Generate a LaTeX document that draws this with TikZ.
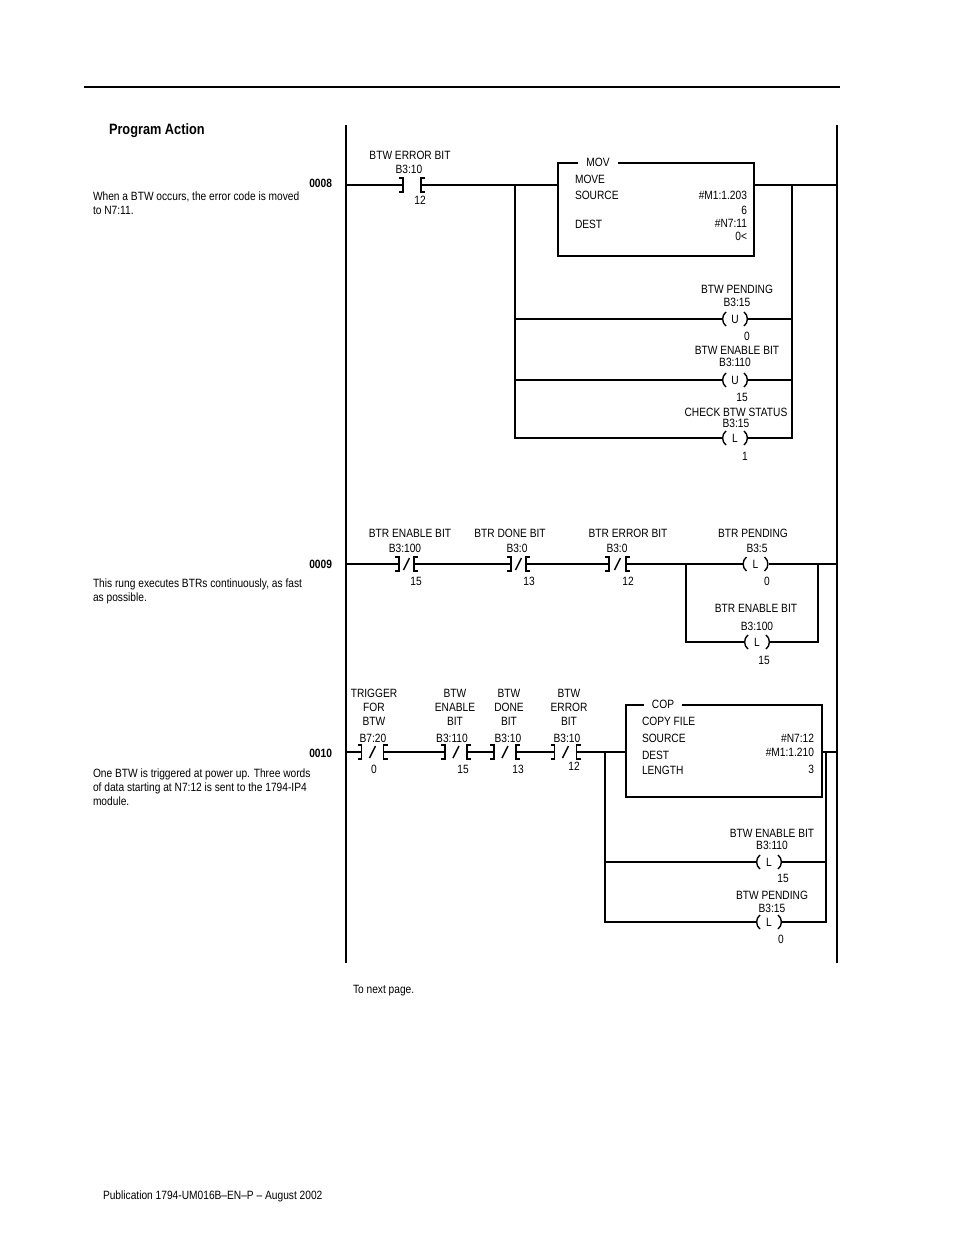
\documentclass[tikz,border=0pt]{standalone}
\usepackage{fontspec}
\setmainfont{Liberation Sans}[FakeStretch=0.85]
\usetikzlibrary{positioning}
\tikzset{x=1pt, y=-1pt,
every node/.style={ % Sets the properties for each node
inner sep=0pt, outer sep=0pt,
font=\fontsize{12}{14}\selectfont},
wire/.style={line width=1.4pt},
rail/.style={line width=2.2pt},
lbl/.style={anchor=mid, yshift=-1pt},
stack/.style={anchor=center, align=center},
desc/.style={anchor=north west, align=left},
rungno/.style={anchor=mid east, yshift=-1pt, font=\bfseries\fontsize{12}{14}\selectfont},
fieldtext/.style={anchor=mid west, yshift=-1pt},
valtext/.style={anchor=mid east, yshift=-1pt},
block/.style={draw, line width=1.8pt},
boxtitle/.style={fill=white, inner xsep=8pt, anchor=mid, yshift=-1pt},
contact/.style={ % Brackets of a contact
minimum width=#1, minimum height=14,
append after command={\pgfextra{
\draw[wire] ([xshift=-4pt]\tikzlastnode.north west) -- (\tikzlastnode.north west) -- (\tikzlastnode.south west) -- ([xshift=-4pt]\tikzlastnode.south west);
\draw[wire] ([xshift=4pt]\tikzlastnode.north east) -- (\tikzlastnode.north east) -- (\tikzlastnode.south east) -- ([xshift=4pt]\tikzlastnode.south east);}}},
ncontact/.style={ % Normally closed contact
contact=#1,
append after command={\pgfextra{
\draw[wire] ([xshift=-3pt,yshift=1pt]\tikzlastnode.south) -- ([xshift=3pt,yshift=-1pt]\tikzlastnode.north);}}},
coil/.style={ % Parentheses of an output coil
minimum width=26, minimum height=14,
append after command={\pgfextra{
\draw[wire] ([xshift=4pt]\tikzlastnode.north west) to[bend right=55] ([xshift=4pt]\tikzlastnode.south west);
\draw[wire] ([xshift=-4pt]\tikzlastnode.north east) to[bend left=55] ([xshift=-4pt]\tikzlastnode.south east);}}}}
\begin{document}
\begin{tikzpicture}
	\useasboundingbox (0,0) rectangle (954,1235);
	\draw[line width=2pt] (84,87) -- (840,87);
	\node[anchor=mid west, font=\bfseries\fontsize{15}{18}\selectfont] (head) at (109,132) {Program Action};
	\coordinate (Ltop) at (346,125);
	\coordinate (Lbot) at (346,963);
	\coordinate (Rtop) at (837,125);
	\coordinate (Rbot) at (837,963);
	\draw[rail] (Ltop) -- (Lbot);
	\draw[wire] (Rtop) -- (Rbot);

	% rung 0008
	\coordinate (L8) at (346,185);
	\coordinate (R8) at (837,185);
	\coordinate (b8l) at (515,185);
	\coordinate (b8r) at (792,185);
	\node[rungno] (n8) at (332,184) {0008};
	\node[desc] (d8) at (93,191.5) {When a BTW occurs, the error code is moved\\to N7:11.};
	\node[contact=18] (c8) at (412,185) {};
	\node[lbl] (c8a) at (410,156) {BTW ERROR BIT};
	\node[lbl] (c8b) at (409,170) {B3:10};
	\node[lbl] (c8c) at (420,201) {12};
	\node[block, minimum width=196, minimum height=93] (mov) at (656,209.5) {};
	\node[boxtitle] (movt) at (598,163) {MOV};
	\node[fieldtext] (movf1) at (575,180) {MOVE};
	\node[fieldtext] (movf2) at (575,196) {SOURCE};
	\node[fieldtext] (movf3) at (575,225) {DEST};
	\node[valtext] (movv1) at (747,196) {\#M1:1.203};
	\node[valtext] (movv2) at (747,211) {6};
	\node[valtext] (movv3) at (747,224) {\#N7:11};
	\node[valtext] (movv4) at (747,237) {0<};
	\node[coil] (k81) at (735,319) {U};
	\node[lbl] (k81a) at (737,290) {BTW PENDING};
	\node[lbl] (k81b) at (737,303) {B3:15};
	\node[lbl] (k81c) at (747,337) {0};
	\node[coil] (k82) at (735,380) {U};
	\node[lbl] (k82a) at (737,351) {BTW ENABLE BIT};
	\node[lbl] (k82b) at (735,363) {B3:110};
	\node[lbl] (k82c) at (742,398) {15};
	\node[coil] (k83) at (735,438) {L};
	\node[lbl] (k83a) at (736,413) {CHECK BTW STATUS};
	\node[lbl] (k83b) at (736,424) {B3:15};
	\node[lbl] (k83c) at (745,457) {1};
	\draw[wire] (L8) -- (c8.west) (c8.east) -- (c8.east -| mov.west) (mov.east |- R8) -- (R8);
	\draw[wire] (b8l) |- (k81.west) (b8l) |- (k82.west) (b8l) |- (k83.west);
	\draw[wire] (k81.east) -| (b8r) (k82.east) -| (b8r) (k83.east) -| (b8r);

	% rung 0009
	\coordinate (L9) at (346,564);
	\coordinate (R9) at (837,564);
	\coordinate (b9l) at (686,564);
	\coordinate (b9r) at (818,564);
	\node[rungno] (n9) at (332,565) {0009};
	\node[desc] (d9) at (93,578.5) {This rung executes BTRs continuously, as fast\\as possible.};
	\node[ncontact=15] (c91) at (406.5,564) {};
	\node[lbl] (c91a) at (410,534) {BTR ENABLE BIT};
	\node[lbl] (c91b) at (405,549) {B3:100};
	\node[lbl] (c91c) at (416,582) {15};
	\node[ncontact=15] (c92) at (518.5,564) {};
	\node[lbl] (c92a) at (510,534) {BTR DONE BIT};
	\node[lbl] (c92b) at (517,549) {B3:0};
	\node[lbl] (c92c) at (529,582) {13};
	\node[ncontact=17] (c93) at (617.5,564) {};
	\node[lbl] (c93a) at (628,534) {BTR ERROR BIT};
	\node[lbl] (c93b) at (617,549) {B3:0};
	\node[lbl] (c93c) at (628,582) {12};
	\node[coil] (k91) at (755.5,564) {L};
	\node[lbl] (k91a) at (753,534) {BTR PENDING};
	\node[lbl] (k91b) at (757,549) {B3:5};
	\node[lbl] (k91c) at (767,582) {0};
	\node[coil] (k92) at (757,642) {L};
	\node[lbl] (k92a) at (756,609) {BTR ENABLE BIT};
	\node[lbl] (k92b) at (757,627) {B3:100};
	\node[lbl] (k92c) at (764,661) {15};
	\draw[wire] (L9) -- (c91.west) (c91.east) -- (c92.west) (c92.east) -- (c93.west) (c93.east) -- (k91.west) (k91.east) -- (R9);
	\draw[wire] (b9l) |- (k92.west) (k92.east) -| (b9r);

	% rung 0010
	\coordinate (L10) at (346,752);
	\coordinate (R10) at (837,752);
	\coordinate (b10l) at (605,752);
	\coordinate (b10r) at (826,752);
	\node[rungno] (n10) at (332,754) {0010};
	\node[desc] (d10) at (93,768.5) {One BTW is triggered at power up. Three words\\of data starting at N7:12 is sent to the 1794-IP4\\module.};
	\node[ncontact=22] (c101) at (372.5,752) {};
	\node[stack] (c101a) at (374,707) {TRIGGER\\FOR\\BTW};
	\node[lbl] (c101b) at (373,739) {B7:20};
	\node[lbl] (c101c) at (374,770) {0};
	\node[ncontact=22] (c102) at (456,752) {};
	\node[stack] (c102a) at (455,707) {BTW\\ENABLE\\BIT};
	\node[lbl] (c102b) at (452,739) {B3:110};
	\node[lbl] (c102c) at (463,770) {15};
	\node[ncontact=22] (c103) at (505,752) {};
	\node[stack] (c103a) at (509,707) {BTW\\DONE\\BIT};
	\node[lbl] (c103b) at (508,739) {B3:10};
	\node[lbl] (c103c) at (518,770) {13};
	\node[ncontact=22] (c104) at (565.5,752) {};
	\node[stack] (c104a) at (569,707) {BTW\\ERROR\\BIT};
	\node[lbl] (c104b) at (567,739) {B3:10};
	\node[lbl] (c104c) at (574,767) {12};
	\node[block, minimum width=196, minimum height=92] (cop) at (724,751) {};
	\node[boxtitle] (copt) at (663,705) {COP};
	\node[fieldtext] (copf1) at (642,722) {COPY FILE};
	\node[fieldtext] (copf2) at (642,739) {SOURCE};
	\node[fieldtext] (copf3) at (642,756) {DEST};
	\node[fieldtext] (copf4) at (642,771) {LENGTH};
	\node[valtext] (copv1) at (814,739) {\#N7:12};
	\node[valtext] (copv2) at (814,753) {\#M1:1.210};
	\node[valtext] (copv3) at (814,770) {3};
	\node[coil] (k101) at (769,862) {L};
	\node[lbl] (k101a) at (772,834) {BTW ENABLE BIT};
	\node[lbl] (k101b) at (772,846) {B3:110};
	\node[lbl] (k101c) at (783,879) {15};
	\node[coil] (k102) at (769,922) {L};
	\node[lbl] (k102a) at (772,896) {BTW PENDING};
	\node[lbl] (k102b) at (772,909) {B3:15};
	\node[lbl] (k102c) at (781,940) {0};
	\draw[wire] (L10) -- (c101.west) (c101.east) -- (c102.west) (c102.east) -- (c103.west) (c103.east) -- (c104.west) (c104.east) -- (cop.west |- L10) (cop.east |- R10) -- (R10);
	\draw[wire] (b10l) |- (k101.west) (b10l) |- (k102.west);
	\draw[wire] (k101.east) -| (b10r) (k102.east) -| (b10r);

	\node[anchor=mid west, yshift=-1pt] (next) at (353,990) {To next page.};
	\node[anchor=mid west, yshift=-1pt] (pub) at (103,1196) {Publication 1794-UM016B--EN--P -- August 2002};
\end{tikzpicture}
\end{document}
